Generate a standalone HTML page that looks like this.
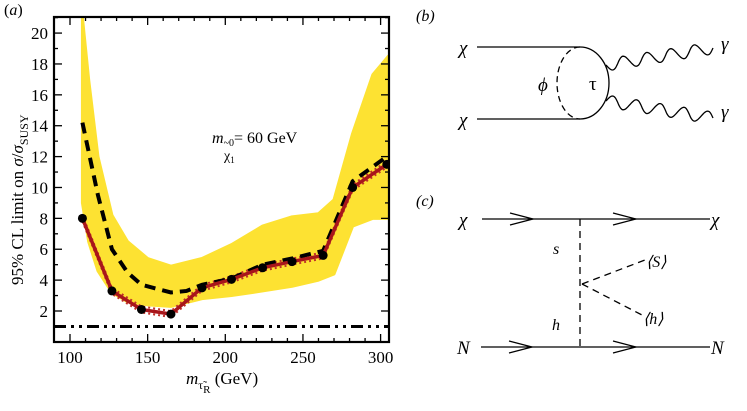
<!DOCTYPE html>
<html><head><meta charset="utf-8"><style>
html,body{margin:0;padding:0;background:#fff;}
svg{display:block;font-family:"Liberation Serif",serif;}
</style></head><body>
<svg id="c" width="747" height="411" viewBox="0 0 747 411">
<g id="plot"></g>
<g id="diagb" stroke="#000" fill="none" stroke-width="1.3">
  <text x="416" y="21" font-size="16" font-style="italic" stroke="none" fill="#000">(b)</text>
  <line x1="477" y1="47" x2="580" y2="47"/>
  <line x1="477" y1="119" x2="580" y2="119"/>
  <path d="M580,47 A29,36 0 0 1 580,119"/>
  <path d="M580,47 A23,36 0 0 0 580,119" stroke-dasharray="6,4"/>
  <g stroke="none" fill="#000" font-size="19" font-style="italic">
    <text x="459" y="54">χ</text>
    <text x="459" y="126">χ</text>
    <text x="538" y="91">ϕ</text>
    <text x="589" y="90" font-style="normal">τ</text>
    <text x="721" y="50">γ</text>
    <text x="721" y="118">γ</text>
  </g>
</g>
<g stroke="#000" fill="none" stroke-width="1.3">
  <text x="416" y="206" font-size="16" font-style="italic" stroke="none" fill="#000">(c)</text>
  <line x1="482" y1="219" x2="710" y2="219"/>
  <line x1="481" y1="347" x2="710" y2="347"/>
  <path d="M510,213 L533,219 L510,225 M613,213 L636,219 L613,225"/>
  <path d="M509,341 L532,347 L509,353 M613,341 L636,347 L613,353"/>
  <line x1="580" y1="219" x2="580" y2="347" stroke-dasharray="7,5"/>
  <line x1="582" y1="284" x2="645" y2="260" stroke-dasharray="7,5"/>
  <line x1="582" y1="284" x2="642" y2="315" stroke-dasharray="7,5"/>
  <g stroke="none" fill="#000" font-size="19" font-style="italic">
    <text x="459" y="226">χ</text>
    <text x="711" y="226">χ</text>
    <text x="457" y="354">N</text>
    <text x="711" y="354">N</text>
    <text x="553" y="254" font-size="16">s</text>
    <text x="552" y="330" font-size="16">h</text>
    <text x="646" y="267" font-size="16">⟨S⟩</text>
    <text x="643" y="324" font-size="16">⟨h⟩</text>
  </g>
</g>
</svg>
<script>
const obsX=[108,127,146,165,185,204,224,243,263,282,304];
const obsY=[8,3.3,2.1,1.8,3.5,4.05,4.8,5.2,5.6,10,11.5];
const expX=[108,118,127,137,146,165,175,185,204,224,243,263,282,304];
const expY=[14.2,9.5,6,4.5,3.7,3.2,3.3,3.7,4.1,5,5.4,5.9,10.4,12];
const bandX=[108,112,118,127,137,150,165,185,204,224,243,260,270,282,295,305];
const bandHi=[21,17,12,8.2,6.5,5.4,4.9,5.4,6.3,7.5,8.1,8.3,9.2,13.5,17.3,18.5];
const bandLo=[9,6.5,4.6,3.2,2.6,2.4,2.3,2.8,3.0,3.3,3.6,4.0,4.4,7.5,8.0,8.0];
const xTicks=[100,150,200,250,300];
const yTicks=[2,4,6,8,10,12,14,16,18,20];
const refLine=1;
const NS="http://www.w3.org/2000/svg";
const L=54,R=389,T=17,B=342;
function xs(v){return 70+(v-100)*1.553;}
function ys(v){return 311-(v-2)*15.44;}
const g=document.getElementById('plot');
function mk(t,a,p){const e=document.createElementNS(NS,t);for(const k in a)e.setAttribute(k,a[k]);(p||g).appendChild(e);return e;}
const clip=mk('clipPath',{id:'cp'});mk('rect',{x:L,y:T,width:R-L,height:B-T},clip);
const dg=mk('g',{'clip-path':'url(#cp)'});


let d='';bandX.forEach((x,i)=>d+=(i?'L':'M')+xs(x)+','+ys(bandHi[i]));
for(let i=bandX.length-1;i>=0;i--)d+='L'+xs(bandX[i])+','+ys(bandLo[i]);
const band=mk('path',{d:d+'Z',fill:'#fde232',stroke:'#fde232','stroke-width':3,'stroke-linejoin':'round'},dg);


const rl=mk('line',{x1:L,x2:R,y1:ys(refLine),y2:ys(refLine),stroke:'#000','stroke-width':3,'stroke-dasharray':'12,5,3,5,3,5'},dg);


function pts(X,Y,dx,dy){return X.map((x,i)=>(xs(x)+(dx||0))+','+(ys(Y[i])+(dy||0))).join(' ');}
const o1=mk('polyline',{points:pts(obsX,obsY,0,3),fill:'none',stroke:'#c0302a','stroke-width':2,'stroke-dasharray':'2,3'},dg);


const o2=mk('polyline',{points:pts(obsX,obsY,0,-3),fill:'none',stroke:'#c0302a','stroke-width':2,'stroke-dasharray':'2,3'},dg);


const el=mk('polyline',{points:pts(expX,expY),fill:'none',stroke:'#000','stroke-width':4,'stroke-dasharray':'11,7'},dg);


const ol=mk('polyline',{points:pts(obsX,obsY),fill:'none',stroke:'#a8161b','stroke-width':3.5},dg);


obsX.forEach((x,i)=>{const c=mk('circle',{cx:xs(x),cy:ys(obsY[i]),r:4.5,fill:'#000'},dg);

});
for(let v=100;v<=300;v+=10){const big=v%50==0;const h=big?8:4;
mk('line',{x1:xs(v),x2:xs(v),y1:B,y2:B-h,stroke:'#000','stroke-width':1.3});
mk('line',{x1:xs(v),x2:xs(v),y1:T,y2:T+h,stroke:'#000','stroke-width':1.3});}
for(let v=0;v<=21;v+=1){const big=v%2==0;const h=big?8:4;
mk('line',{x1:L,x2:L+h,y1:ys(v),y2:ys(v),stroke:'#000','stroke-width':1.3});
mk('line',{x1:R,x2:R-h,y1:ys(v),y2:ys(v),stroke:'#000','stroke-width':1.3});}
xTicks.forEach(v=>{const t=mk('text',{x:xs(v),y:363,'font-size':17,'text-anchor':'middle'});t.textContent=v;

});
yTicks.forEach(v=>{const t=mk('text',{x:48,y:ys(v)+6,'font-size':17,'text-anchor':'end'});t.textContent=v;

});
const fr=mk('rect',{x:L,y:T,width:R-L,height:B-T,fill:'none',stroke:'#000','stroke-width':2.2});


// photon lines in diagram b
const db=document.getElementById('diagb');
function wave(x1,y1,x2,y2,n,amp,name){const dx=x2-x1,dy=y2-y1,len=Math.hypot(dx,dy),nx=-dy/len,ny=dx/len;let p='';
for(let i=0;i<=120;i++){const t=i/120,s=amp*Math.sin(t*n*2*Math.PI);p+=(i?'L':'M')+(x1+dx*t+nx*s).toFixed(1)+','+(y1+dy*t+ny*s).toFixed(1);}
const w=mk('path',{d:p,fill:'none',stroke:'#000','stroke-width':1.3},db);

}
wave(606,65,713,48,4.5,6,'photon-top');
wave(606,101,713,118,4.5,-6,'photon-bottom');
</script>
<script>
(function(){const g=document.getElementById('plot');const NS="http://www.w3.org/2000/svg";
function tx(html,attrs,name){const t=document.createElementNS(NS,'text');for(const k in attrs)t.setAttribute(k,attrs[k]);t.innerHTML=html;g.appendChild(t);

return t;}
tx('(<tspan font-style="italic">a</tspan>)',{x:4,y:15,'font-size':16},'panel-a-label');
tx('<tspan font-style="italic">m</tspan><tspan font-size="12" dy="5">τ̃</tspan><tspan font-size="11" dy="4">R</tspan><tspan dy="-9"> (GeV)</tspan>',{x:186,y:384,'font-size':17},'x-axis-title');
tx('95% CL limit on <tspan font-style="italic">σ</tspan>/<tspan font-style="italic">σ</tspan><tspan font-size="12" dy="5">SUSY</tspan>',{x:0,y:0,'font-size':17,transform:'translate(23,285) rotate(-90)'},'y-axis-title');
tx('<tspan font-style="italic">m</tspan><tspan font-size="10" dy="3">~0</tspan><tspan dy="-3">= 60 GeV</tspan>',{x:212,y:143,'font-size':16},'mass-annotation');
tx('χ<tspan font-size="9" dy="3">1</tspan>',{x:224,y:160,'font-size':14},'mass-annotation-sub');
})();
</script>
</body></html>
